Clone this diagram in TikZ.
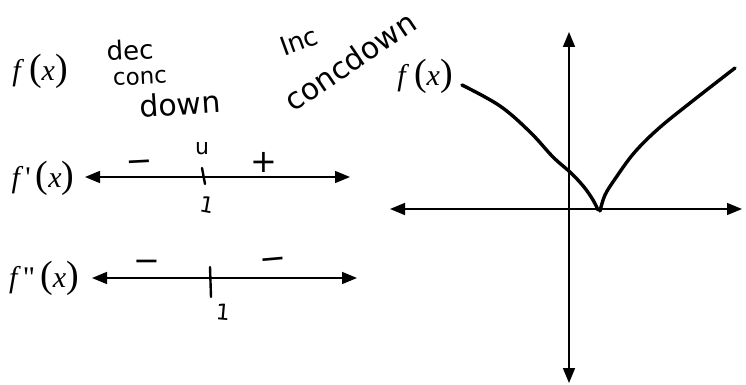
\documentclass[tikz,border=0pt]{standalone}
\usepackage{fontspec}
\usetikzlibrary{arrows.meta}
\newfontfamily\handfont{DejaVu Sans}
\newfontfamily\tmsfont{Liberation Serif}
\newcommand\bigparen[1]{{\fontsize{38}{38}\selectfont #1}}
\newcommand\fnlabel[1]{\textit{f}#1\kern5pt\bigparen{(}\textit{x}\bigparen{)}}
\tikzset{
  every node/.style={inner sep=0pt, outer sep=0pt},
  arrline/.style={line width=1.6pt, {Triangle[length=15pt,width=12pt]}-{Triangle[length=15pt,width=12pt]}},
  mathlbl/.style={font=\tmsfont\fontsize{30}{32}\selectfont},
  hand/.style={font=\handfont\fontsize{26}{28}\selectfont},
  sign/.style={font=\handfont\fontsize{32}{34}\selectfont},
  smallhand/.style={font=\handfont\fontsize{22}{24}\selectfont},
  tickmark/.style={line width=2.4pt, line cap=round},
  curveline/.style={line width=3.4pt, line cap=round, line join=round},
}
\begin{document}
\begin{tikzpicture}[x=1pt,y=-1pt]
\useasboundingbox (0,0) rectangle (746,385);
% ---- left column labels
\node[mathlbl] (fx) at (40,71) {\fnlabel{}};
\node[mathlbl] (fpx) at (43,178) {\fnlabel{\kern2pt\symbol{"27}}};
\node[mathlbl] (fppx) at (44,278) {\fnlabel{\kern2pt\symbol{"22}}};
% ---- handwriting notes
\node[hand, rotate=3] (dec) at (130,50) {dec};
\node[hand, font=\handfont\fontsize{23}{25}\selectfont, rotate=3] (conc) at (140,78) {conc};
\node[hand, font=\handfont\fontsize{30}{32}\selectfont, rotate=4] (down) at (180,104) {down};
\node[hand, rotate=20] (inc) at (299,41) {Inc};
\node[hand, font=\handfont\fontsize{30}{32}\selectfont, rotate=34] (concdown) at (350,61) {concdown};
% ---- f'(x) number line
\coordinate (p1L) at (85,177);
\coordinate (p1R) at (350,177);
\draw[arrline] (p1L) -- (p1R);
\coordinate (t1a) at (202,168);
\coordinate (t1b) at (205,184);
\draw[tickmark] (t1a) -- (t1b);
\node[sign, rotate=3] (m1) at (140,166) {−};
\node[sign] (p1) at (264,162) {+};
\node[smallhand] (u1) at (202,148) {u};
\node[smallhand, rotate=-10] (one1) at (207,205) {1};
% ---- f''(x) number line
\coordinate (p2L) at (92,278);
\coordinate (p2R) at (357,278);
\draw[arrline] (p2L) -- (p2R);
\coordinate (t2a) at (210,267);
\coordinate (t2b) at (211,297);
\draw[tickmark] (t2a) -- (t2b);
\node[sign] (m2) at (147,266) {−};
\node[sign, rotate=5] (m3) at (273,264) {−};
\node[smallhand, rotate=-5] (one2) at (223,312) {1};
% ---- graph
\coordinate (yT) at (569,32);
\coordinate (yB) at (569,383);
\coordinate (xL) at (390,209);
\coordinate (xR) at (742,209);
\draw[arrline] (yB) -- (yT);
\draw[arrline] (xL) -- (xR);
\node[mathlbl] (fxg) at (425,76) {\fnlabel{}};
\draw[curveline] plot[smooth, tension=0.6] coordinates {(462,85) (500,106) (530,132) (553,157) (571,173) (584,187) (593,200) (598,210)};
\draw[curveline] plot[smooth, tension=0.6] coordinates {(600,211) (605,195) (615,179) (634,153) (658,129) (690,103) (735,68)};
\end{tikzpicture}
\end{document}
